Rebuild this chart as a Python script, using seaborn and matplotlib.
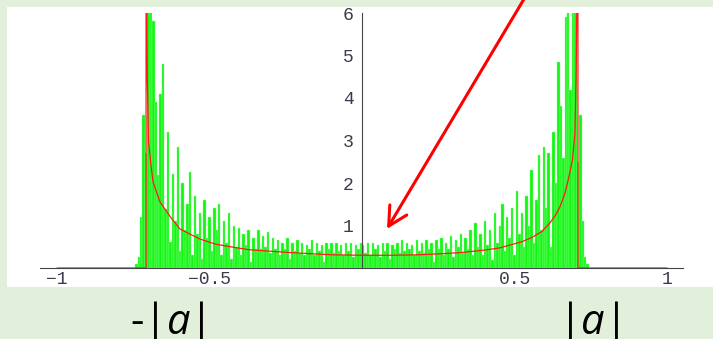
import numpy as np
import pandas as pd
import matplotlib
matplotlib.use("Agg")
import matplotlib.pyplot as plt
from matplotlib.patches import Rectangle
from matplotlib.ticker import FixedLocator, MultipleLocator
import seaborn as sns

# histogram heights, bins of width 0.008 from -0.744 to 0.744 (left half, then right half)
left_heights = [
    0.1, 0.25, 1.2, 3.6, 2.7, 6.5, 6.5, 5.8, 3.9, 2.2,
    4.1, 4.8, 1.4, 3.2, 0.6, 2.2, 1.1, 2.85, 0.4, 2.0,
    0.9, 1.5, 2.25, 0.3, 1.7, 0.8, 1.3, 0.2, 1.6, 0.7,
    1.2, 0.4, 1.4, 0.9, 1.5, 0.3, 1.1, 0.6, 1.3, 0.2,
    1.0, 0.5, 0.95, 0.3, 0.8, 0.55, 0.9, 0.15, 0.7, 0.45,
    0.9, 0.45, 0.75, 0.5, 0.85, 0.35, 0.7, 0.45, 0.65, 0.3,
    0.6, 0.45, 0.7, 0.2, 0.6, 0.4, 0.65, 0.35, 0.6, 0.3,
    0.55, 0.45, 0.65, 0.3, 0.6, 0.4, 0.55, 0.15, 0.6, 0.45,
    0.6, 0.35, 0.6, 0.4, 0.55, 0.3, 0.6, 0.4, 0.6, 0.25,
    0.55, 0.45, 0.6,
]
right_heights = [
    0.55, 0.35, 0.6, 0.3, 0.6, 0.45, 0.55, 0.25, 0.6, 0.4,
    0.6, 0.2, 0.55, 0.45, 0.6, 0.35, 0.65, 0.4, 0.6, 0.45,
    0.55, 0.3, 0.65, 0.4, 0.6, 0.35, 0.65, 0.45, 0.6, 0.15,
    0.65, 0.45, 0.7, 0.3, 0.6, 0.45, 0.75, 0.25, 0.65, 0.5,
    0.8, 0.35, 0.7, 0.45, 0.9, 0.3, 1.05, 0.5, 0.8, 0.3,
    1.1, 0.55, 0.9, 0.2, 1.3, 0.6, 1.0, 1.5, 0.4, 1.2,
    0.7, 1.4, 0.3, 1.8, 0.8, 1.3, 0.5, 1.7, 1.0, 2.3,
    0.6, 1.6, 2.65, 0.9, 2.85, 1.4, 2.7, 0.5, 3.2, 2.0,
    4.85, 3.8, 2.6, 5.9, 6.5, 4.2, 6.5, 6.5, 2.5, 3.6,
    1.1, 0.25, 0.1,
]

# red density curve
red_x = [-1.0, -0.708, -0.708, -0.706, -0.704, -0.700, -0.692, -0.685, -0.662,
         -0.626, -0.597, -0.565, -0.531, -0.48, -0.423, -0.37, -0.311, -0.25,
         -0.203, -0.15, -0.095, 0.0, 0.1, 0.18, 0.245, 0.32, 0.4, 0.45, 0.485,
         0.525, 0.56, 0.59, 0.616, 0.635, 0.649, 0.665, 0.676, 0.69, 0.698,
         0.702, 0.705, 0.708, 0.708, 1.0]
red_y = [0, 0, 6.6, 6.6, 4.5, 3.0, 2.42, 2.02, 1.55,
         1.18, 0.92, 0.8, 0.68, 0.56, 0.49, 0.43, 0.40, 0.37,
         0.35, 0.33, 0.31, 0.30, 0.30, 0.31, 0.33, 0.36, 0.42, 0.47, 0.54,
         0.62, 0.73, 0.86, 1.06, 1.25, 1.44, 1.75, 2.07, 2.54, 3.17,
         4.5, 6.6, 6.6, 0, 0]

x_major = [-1, -0.5, 0.5, 1]
x_labels = ["\u22121", "\u22120.5", "0.5", "1"]
y_major = [1, 2, 3, 4, 5, 6]

heights = left_heights + right_heights
edges = np.linspace(-0.744, 0.744, len(heights) + 1)
hist_df = pd.DataFrame({"x": (edges[:-1] + edges[1:]) / 2, "h": heights})

sns.set_style("white")
plt.rcParams["mathtext.fontset"] = "custom"
plt.rcParams["mathtext.rm"] = "Open Sans"
plt.rcParams["mathtext.it"] = "Open Sans:italic"

W, H = 713, 339
fig = plt.figure(figsize=(W / 100, H / 100), dpi=100, facecolor="#e2efda")

# white panel behind the plot
fig.patches.append(Rectangle((7 / W, (H - 287) / H), (W - 7) / W, 280 / H,
                             transform=fig.transFigure, facecolor="white",
                             edgecolor="none", zorder=-1))

ax = fig.add_axes([40 / W, (H - 268) / H, 643 / W, 255 / H])
ax.patch.set_alpha(0)

sns.histplot(data=hist_df, x="x", weights="h", bins=list(edges), stat="count",
             element="bars", color="#14f514", edgecolor="#8cff8c", linewidth=0.3,
             alpha=1, ax=ax)
sns.lineplot(x=red_x, y=red_y, sort=False, estimator=None, color="#ff1a1a",
             linewidth=0.9, ax=ax, zorder=6)

ax.set_xlim((40 - 362) / 305, (683 - 362) / 305)
ax.set_ylim(0, 6)
ax.set_xlabel("")
ax.set_ylabel("")

for s in ["top", "right"]:
    ax.spines[s].set_visible(False)
ax.spines["left"].set_position(("data", 0))
for s in ["left", "bottom"]:
    ax.spines[s].set_color("#444444")
    ax.spines[s].set_linewidth(0.8)
    ax.spines[s].set_zorder(5)

ax.xaxis.set_major_locator(FixedLocator(x_major))
ax.set_xticklabels(x_labels)
ax.xaxis.set_minor_locator(MultipleLocator(0.1))
ax.yaxis.set_major_locator(FixedLocator(y_major))
ax.yaxis.set_minor_locator(MultipleLocator(0.2))
ax.tick_params(which="both", direction="in", colors="#444444", width=0.8,
               labelcolor="#3a3a4a", labelsize=13)
ax.tick_params(which="major", length=4, pad=2)
ax.tick_params(which="minor", length=2.5)
ax.tick_params(axis="y", pad=6)
for lab in ax.get_xticklabels() + ax.get_yticklabels():
    lab.set_family("Liberation Mono")

ax.annotate("", xy=(0.082, 0.92), xycoords="data",
            xytext=(527, 345), textcoords="figure pixels",
            arrowprops=dict(arrowstyle="->,head_length=1.35,head_width=0.71",
                            color="red", lw=2.2, shrinkA=0, shrinkB=0),
            annotation_clip=False)

# bottom band covers the lower edge of the tick labels
fig.patches.append(Rectangle((0, 0), 1, (H - 287) / H, transform=fig.transFigure,
                             facecolor="#e2efda", edgecolor="none", zorder=1))

fig.text(167 / W, 5 / H, r"-$|a|$", ha="center", va="baseline", fontsize=30,
         family="Open Sans", color="black", zorder=3)
fig.text(589 / W, 5 / H, r"$|a|$", ha="center", va="baseline", fontsize=30,
         family="Open Sans", color="black", zorder=3)

fig.savefig("out.png", dpi=100, facecolor=fig.get_facecolor())
